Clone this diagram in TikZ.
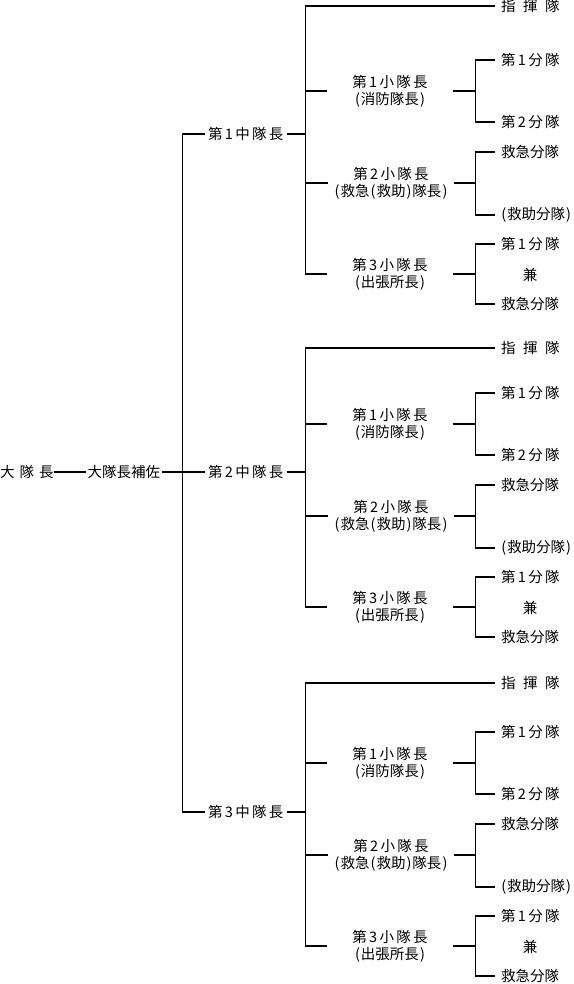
\documentclass[tikz,border=0pt]{standalone}
\usepackage{fontspec}
\setmainfont{Noto Sans CJK JP}
\usetikzlibrary{positioning}
\newcommand{\ts}{\hspace{2.3pt}}
\newcommand{\lp}{\makebox[7pt][c]{(}}
\newcommand{\rp}{\makebox[7pt][c]{)}}
\tikzset{
  ln/.style={line width=1.1pt,black},
  lab/.style={inner xsep=3pt,inner ysep=1pt,font=\fontsize{14.5}{17}\selectfont},
  shobox/.style={lab,align=center,minimum width=125pt},
  bun/.style={lab,anchor=west,inner xsep=6pt}
}

\begin{document}
\begin{tikzpicture}[x=1pt,y=-1pt]
\useasboundingbox (0,0) rectangle (573,984);
\node[lab,anchor=west,inner xsep=0pt] (dai) at (0,472) {大\hspace{5pt}隊\hspace{5pt}長};
\node[lab,anchor=west,inner xsep=1.5pt] (hosa) at (86,472) {大隊長補佐};
\coordinate (t) at (182.5,472);
\foreach \g/\b/\s/\m in {1/91/6/134,2/424/348/472,3/763/683/812}{
  \node[lab,anchor=west] (chu\g) at (205,\m) {第\ts\g\ts 中\ts 隊\ts 長};
  \coordinate (k\g) at (305.5,\m);
  \node[bun] (shiki\g) at (495,\s) {指\hspace{7.5pt}揮\hspace{7.5pt}隊};
  % shotai
  \node[shobox] (sa\g) at (390,\b) {第\ts 1\ts 小\ts 隊\ts 長\\\lp 消防隊長\rp};
  \node[shobox] (sb\g) at (391,\b+92) {第\ts 2\ts 小\ts 隊\ts 長\\\lp 救急\lp 救助\rp 隊長\rp};
  \node[shobox] (sc\g) at (390,\b+183) {第\ts 3\ts 小\ts 隊\ts 長\\\lp 出張所長\rp};
  % buntai
  \node[bun] (a1\g) at (495,\b-31) {第\ts 1\ts 分\ts 隊};
  \node[bun] (a2\g) at (495,\b+31) {第\ts 2\ts 分\ts 隊};
  \node[bun] (b1\g) at (495,\b+61) {救急分隊};
  \node[bun,inner xsep=5pt] (b2\g) at (495,\b+124) {\lp 救助分隊\rp};
  \node[bun] (c1\g) at (495,\b+153) {第\ts 1\ts 分\ts 隊};
  \node[lab] (c0\g) at (530,\b+184) {兼};
  \node[bun] (c2\g) at (495,\b+213) {救急分隊};
  \coordinate (ja\g) at (475.5,\b);
  \coordinate (jb\g) at (475.5,\b+92);
  \coordinate (jc\g) at (475.5,\b+183);
  % lines
  \draw[ln] (chu\g.east) -- (k\g);
  \draw[ln] (shiki\g.west) -| (k\g) |- (sc\g.west);
  \draw[ln] (sa\g.west) -- (sa\g.west -| k\g);
  \draw[ln] (sb\g.west) -- (sb\g.west -| k\g);
  \draw[ln] (sa\g.east) -- (ja\g);
  \draw[ln] (sb\g.east) -- (jb\g);
  \draw[ln] (sc\g.east) -- (jc\g);
  \draw[ln] (a1\g.west) -| (ja\g) |- (a2\g.west);
  \draw[ln] (b1\g.west) -| (jb\g) |- (b2\g.west);
  \draw[ln] (c1\g.west) -| (jc\g) |- (c2\g.west);
}
\draw[ln] (dai.east) -- (hosa.west);
\draw[ln] (hosa.east) -- (chu2.west);
\draw[ln] (chu1.west) -| (t) |- (chu3.west);
\end{tikzpicture}
\end{document}
